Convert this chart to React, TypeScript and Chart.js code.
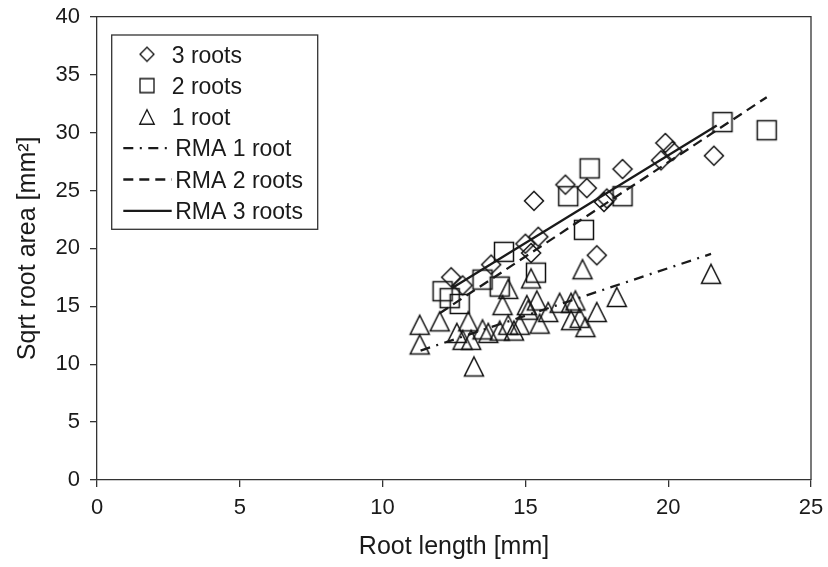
import React, { useEffect, useRef } from 'react';
import { Chart, registerables } from 'chart.js';

Chart.register(...registerables);

// ---------- data ----------
const threeRootsX = [12.4, 12.8, 13.8, 15.0, 15.2, 15.45, 15.3, 16.4, 17.15, 17.5, 17.75, 17.85, 18.4, 19.75, 19.9, 20.15, 21.6];
const threeRootsY = [17.5, 16.8, 18.6, 20.4, 19.6, 21.0, 24.1, 25.5, 25.2, 19.4, 24.0, 24.3, 26.85, 27.6, 29.1, 28.4, 28.0];

const twoRootsX = [12.1, 12.35, 12.7, 13.5, 14.1, 14.25, 15.37, 16.5, 17.05, 17.25, 18.4, 21.9, 23.45];
const twoRootsY = [16.3, 15.7, 15.2, 17.3, 16.7, 19.7, 17.9, 24.5, 21.6, 26.9, 24.5, 30.9, 30.2];

const oneRootX = [11.3, 11.3, 12.0, 12.6, 12.8, 13.0, 13.1, 13.2, 13.5, 13.7, 14.1, 14.2, 14.4, 14.4, 14.6, 14.8, 15.05, 15.1, 15.2, 15.4, 15.5, 15.8, 16.2, 16.6, 16.6, 16.75, 16.9, 17.0, 17.1, 17.5, 18.2, 21.5];
const oneRootY = [13.4, 11.7, 13.7, 12.7, 12.1, 13.7, 12.1, 9.8, 13.0, 12.7, 12.9, 15.1, 16.5, 13.4, 12.9, 13.4, 15.1, 14.7, 17.4, 15.5, 13.5, 14.5, 15.3, 15.3, 13.8, 15.5, 14.0, 18.2, 13.2, 14.5, 15.8, 17.8];

const rma1X = [11.33, 21.5];
const rma1Y = [11.17, 19.52];
const rma2X = [12.0, 23.45];
const rma2Y = [14.4, 33.05];
const rma3X = [12.42, 21.7];
const rma3Y = [16.55, 30.6];

const xTicks = [0, 5, 10, 15, 20, 25];
const yTicks = [0, 5, 10, 15, 20, 25, 30, 35, 40];

const seriesLabels = ['3 roots', '2 roots', '1 root', 'RMA 1 root', 'RMA 2 roots', 'RMA 3 roots'];

const INK = '#1a1a1a';
const AXIS = '#333';
const FONT = '"Liberation Sans", Arial, Helvetica, sans-serif';

const pts = (xs: number[], ys: number[]) => xs.map((x, i) => ({ x, y: ys[i] }));

function makeMarker(kind: string, size: number, lw: number): HTMLCanvasElement {
  const s = Math.ceil(size + 6);
  const dim = s % 2 === 0 ? s : s + 1;
  const c = document.createElement('canvas');
  c.width = dim;
  c.height = dim;
  const ctx = c.getContext('2d')!;
  const cx = dim / 2;
  const h = size / 2;
  ctx.strokeStyle = '#111';
  ctx.lineWidth = lw;
  ctx.lineJoin = 'miter';
  ctx.beginPath();
  if (kind === 'diamond') {
    ctx.moveTo(cx - h, cx);
    ctx.lineTo(cx, cx - h);
    ctx.lineTo(cx + h, cx);
    ctx.lineTo(cx, cx + h);
    ctx.closePath();
  } else if (kind === 'square') {
    ctx.rect(cx - h, cx - h, size, size);
  } else {
    ctx.moveTo(cx, cx - h);
    ctx.lineTo(cx + h, cx + h);
    ctx.lineTo(cx - h, cx + h);
    ctx.closePath();
  }
  ctx.stroke();
  return c;
}

export default function App() {
  const ref = useRef<HTMLCanvasElement | null>(null);

  useEffect(() => {
    if (!ref.current) return;

    const dataDiamond = makeMarker('diamond', 19, 1.5);
    const dataSquare = makeMarker('square', 19, 1.5);
    const dataTri = makeMarker('triangle', 19, 1.5);
    const legDiamond = makeMarker('diamond', 14, 1.3);
    const legSquare = makeMarker('square', 14, 1.3);
    const legTri = makeMarker('triangle', 14.5, 1.3);

    const legendMarkers: any[] = [legDiamond, legSquare, legTri, null, null, null];

    const framePlugin = {
      id: 'frame',
      afterDraw(chart: any) {
        const { ctx, chartArea } = chart;
        ctx.save();
        ctx.strokeStyle = AXIS;
        ctx.lineWidth = 1.3;
        ctx.beginPath();
        ctx.moveTo(chartArea.left, chartArea.top);
        ctx.lineTo(chartArea.right, chartArea.top);
        ctx.lineTo(chartArea.right, chartArea.bottom);
        ctx.stroke();
        ctx.restore();
      },
    };

    const legendPlugin = {
      id: 'boxLegend',
      afterDraw(chart: any) {
        const { ctx, chartArea } = chart;
        const left = chartArea.left + 14.7;
        const top = chartArea.top + 18.3;
        const w = 206;
        const h = 194.3;
        ctx.save();
        ctx.fillStyle = '#fff';
        ctx.fillRect(left, top, w, h);
        ctx.strokeStyle = AXIS;
        ctx.lineWidth = 1.3;
        ctx.strokeRect(left, top, w, h);
        ctx.font = `23px ${FONT}`;
        ctx.textBaseline = 'alphabetic';
        ctx.textAlign = 'left';
        chart.data.datasets.forEach((ds: any, i: number) => {
          const cy = top + 19.3 + i * 31.3;
          const mk = legendMarkers[i];
          if (mk) {
            ctx.drawImage(mk, left + 35.3 - mk.width / 2, cy - mk.height / 2);
          } else {
            ctx.save();
            ctx.strokeStyle = ds.borderColor;
            ctx.lineWidth = ds.borderWidth;
            ctx.setLineDash(ds.borderDash || []);
            ctx.beginPath();
            ctx.moveTo(left + 11.6, cy);
            ctx.lineTo(left + 60, cy);
            ctx.stroke();
            ctx.restore();
          }
          ctx.fillStyle = INK;
          ctx.fillText(ds.label, left + (mk ? 60 : 63.5), cy + 8.2);
        });
        ctx.restore();
      },
    };

    const markerDs = (label: string, data: any[], style: HTMLCanvasElement) => ({
      label,
      data,
      pointStyle: style,
      pointRadius: 2,
      pointHoverRadius: 2,
      pointBorderWidth: 0,
      showLine: false,
      clip: false,
      order: 2,
    });

    const lineDs = (label: string, data: any[], dash: number[]) => ({
      label,
      data,
      showLine: true,
      pointRadius: 0,
      pointHoverRadius: 0,
      borderColor: INK,
      borderWidth: 2.3,
      borderDash: dash,
      fill: false,
      order: 1,
    });

    const chart = new Chart(ref.current, {
      type: 'scatter',
      data: {
        datasets: [
          markerDs(seriesLabels[0], pts(threeRootsX, threeRootsY), dataDiamond),
          markerDs(seriesLabels[1], pts(twoRootsX, twoRootsY), dataSquare),
          markerDs(seriesLabels[2], pts(oneRootX, oneRootY), dataTri),
          lineDs(seriesLabels[3], pts(rma1X, rma1Y), [10, 6.5, 2, 6.5]),
          lineDs(seriesLabels[4], pts(rma2X, rma2Y), [10, 6]),
          lineDs(seriesLabels[5], pts(rma3X, rma3Y), []),
        ] as any,
      },
      options: {
        animation: false,
        responsive: true,
        maintainAspectRatio: false,
        layout: { autoPadding: false, padding: { top: 16.7, right: 17, left: 0, bottom: 0 } },
        plugins: {
          legend: { display: false },
          tooltip: { enabled: false },
        },
        scales: {
          x: {
            type: 'linear',
            min: 0,
            max: 25,
            afterBuildTicks: (scale: any) => {
              scale.ticks = xTicks.map((v) => ({ value: v }));
            },
            afterFit: (scale: any) => {
              scale.height = 87;
              scale.paddingLeft = 0;
              scale.paddingRight = 0;
            },
            grid: {
              drawOnChartArea: false,
              drawTicks: true,
              tickLength: 7,
              color: AXIS,
              lineWidth: 1.3,
            },
            border: { display: true, color: AXIS, width: 1.3 },
            ticks: {
              color: INK,
              padding: 7.5,
              maxRotation: 0,
              font: { family: FONT, size: 22 },
            },
            title: {
              display: true,
              text: 'Root length [mm]',
              color: INK,
              font: { family: FONT, size: 25 },
              padding: { top: 0, bottom: 4.7 },
            },
          },
          y: {
            type: 'linear',
            min: 0,
            max: 40,
            afterBuildTicks: (scale: any) => {
              scale.ticks = yTicks.map((v) => ({ value: v }));
            },
            afterFit: (scale: any) => {
              scale.width = 97;
              scale.paddingTop = 0;
              scale.paddingBottom = 0;
            },
            grid: {
              drawOnChartArea: false,
              drawTicks: true,
              tickLength: 7,
              color: AXIS,
              lineWidth: 1.3,
            },
            border: { display: true, color: AXIS, width: 1.3 },
            ticks: {
              color: INK,
              padding: 10,
              font: { family: FONT, size: 22 },
            },
            title: {
              display: true,
              text: 'Sqrt root area [mm²]',
              color: INK,
              font: { family: FONT, size: 25 },
              padding: { top: 13, bottom: 0 },
            },
          },
        },
      } as any,
      plugins: [framePlugin, legendPlugin],
    });

    return () => chart.destroy();
  }, []);

  return (
    <div style={{ position: 'absolute', left: 0, top: 0, width: 828, height: 567, background: '#fff' }}>
      <canvas ref={ref} />
    </div>
  );
}
